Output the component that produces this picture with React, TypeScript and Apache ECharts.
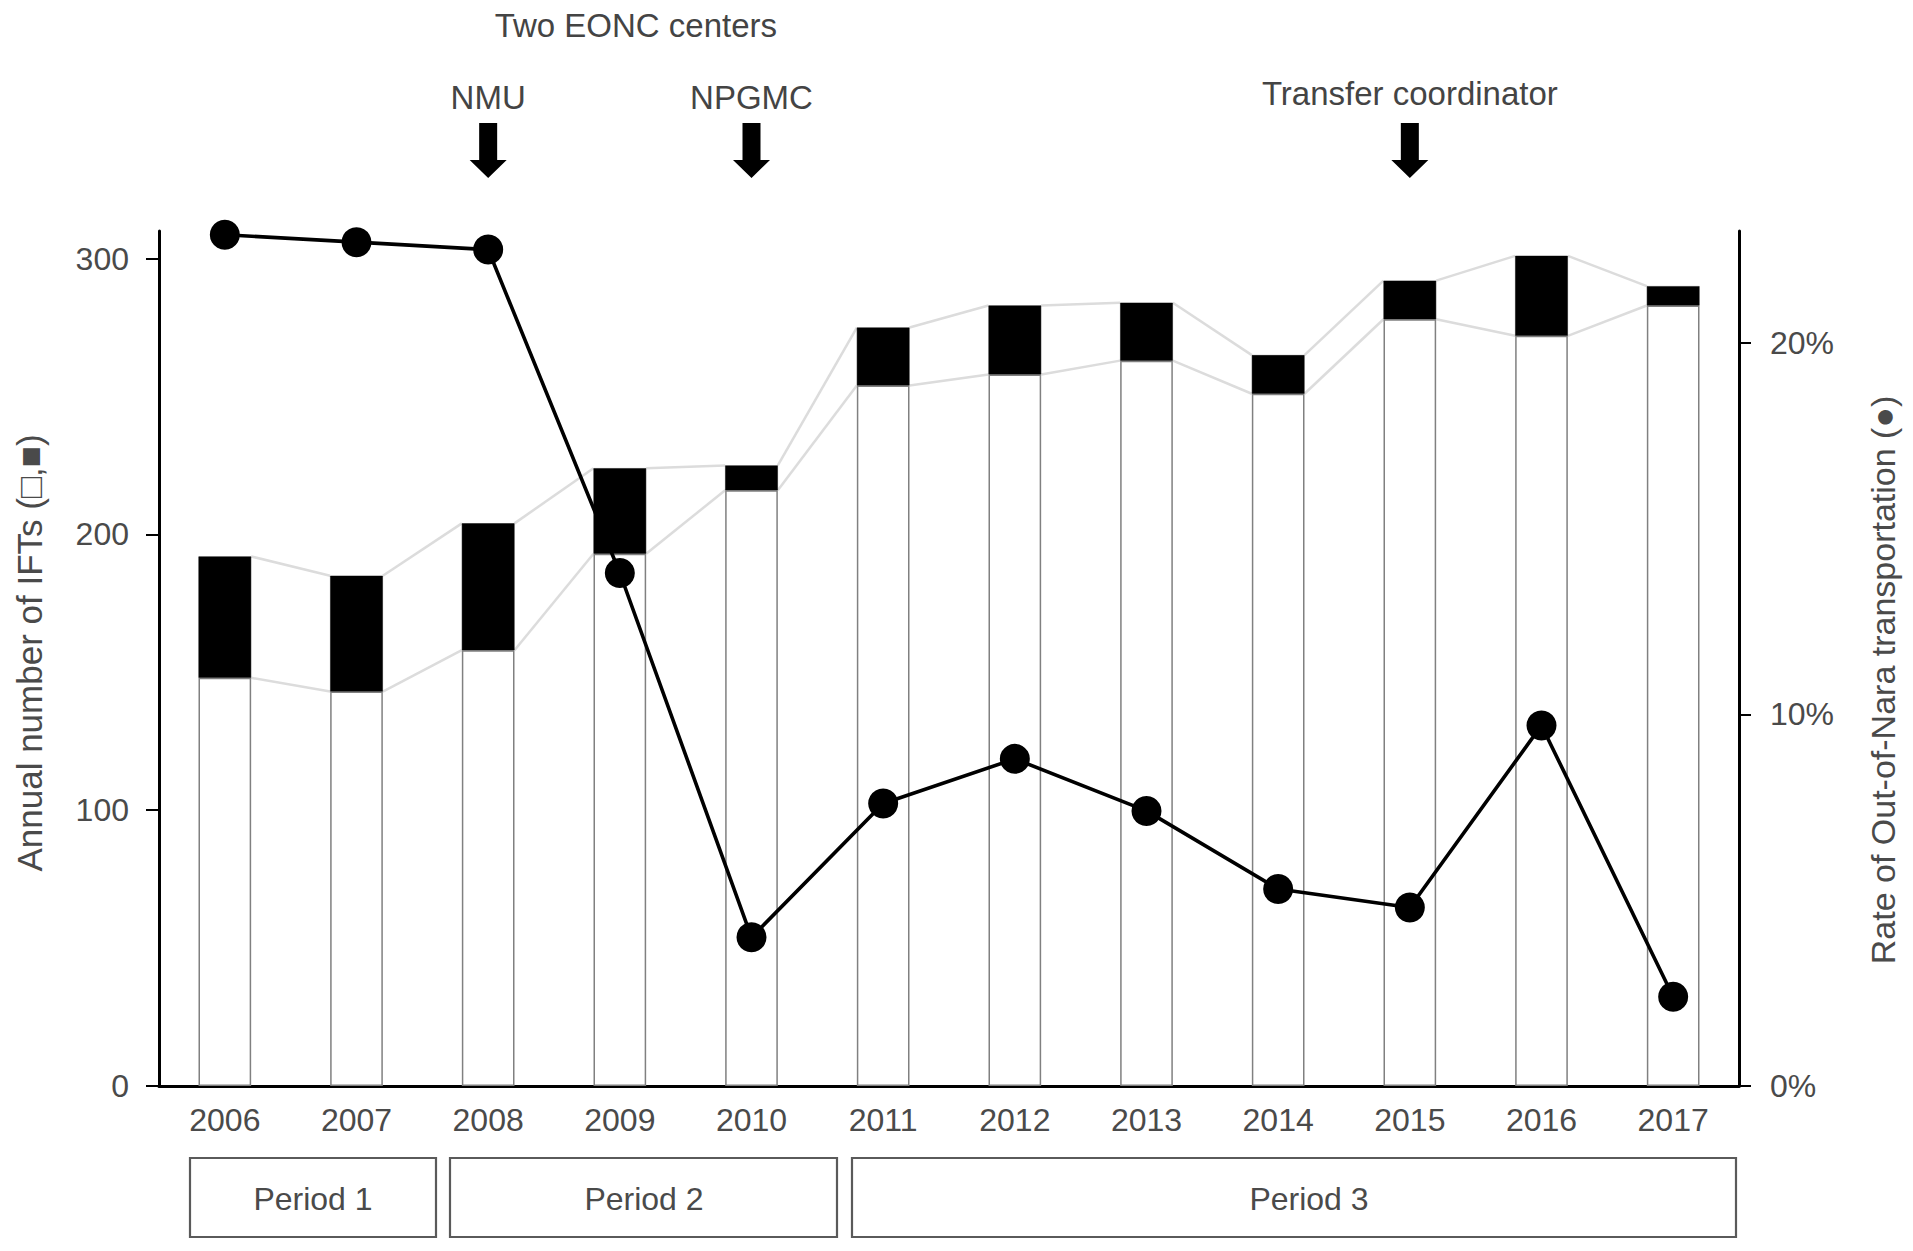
import React, { useEffect, useRef } from "react";
import * as echarts from "echarts";

const years = ["2006", "2007", "2008", "2009", "2010", "2011", "2012", "2013", "2014", "2015", "2016", "2017"];
// white part of bars (other IFTs)
const otherIFTs = [148, 143, 158, 193, 216, 254, 258, 263, 251, 278, 272, 283];
// black part of bars (out-of-Nara IFTs)
const outOfNaraIFTs = [44, 42, 46, 31, 9, 21, 25, 21, 14, 14, 29, 7];
// rate of out-of-Nara transportation (%)
const outOfNaraRate = [22.9, 22.7, 22.5, 13.8, 4.0, 7.6, 8.8, 7.4, 5.3, 4.8, 9.7, 2.4];

const leftTicks = [0, 100, 200, 300];
const rightTicks = [0, 10, 20];

const eventYears = ["2008", "2010", "2015"];
const eventLabels = ["NMU", "NPGMC", "Transfer coordinator"];
const periodLabels = ["Period 1", "Period 2", "Period 3"];

const FONT = '"Liberation Sans", Arial, Helvetica, sans-serif';
const TXT = "#4a4a4a";

export default function App() {
  const ref = useRef<HTMLDivElement>(null);

  useEffect(() => {
    if (!ref.current) return;
    const chart = echarts.init(ref.current, null, { renderer: "svg" });

    const totals = otherIFTs.map((v, i) => v + outOfNaraIFTs[i]);
    const connectorData = years.slice(0, -1).map((_, i) => [
      i,
      otherIFTs[i],
      totals[i],
      otherIFTs[i + 1],
      totals[i + 1],
    ]);

    const option: any = {
      animation: false,
      backgroundColor: "#fff",
      textStyle: { fontFamily: FONT },
      grid: { left: 159, right: 174, top: 231, bottom: 165, containLabel: false },
      xAxis: {
        type: "category",
        data: years,
        boundaryGap: true,
        axisLine: { lineStyle: { color: "#000", width: 3 } },
        axisTick: { show: false },
        axisLabel: { color: TXT, fontSize: 32, fontFamily: FONT, margin: 18 },
        splitLine: { show: false },
      },
      yAxis: [
        {
          type: "value",
          min: 0,
          max: 310,
          position: "left",
          axisLine: { show: true, lineStyle: { color: "#000", width: 3 } },
          axisTick: { show: true, length: 13, lineStyle: { color: "#000", width: 2 }, customValues: leftTicks },
          axisLabel: { color: TXT, fontSize: 32, fontFamily: FONT, margin: 30, customValues: leftTicks },
          splitLine: { show: false },
        },
        {
          type: "value",
          min: 0,
          max: 23,
          position: "right",
          axisLine: { show: true, lineStyle: { color: "#000", width: 3 } },
          axisTick: { show: true, length: 12, lineStyle: { color: "#000", width: 2 }, customValues: rightTicks },
          axisLabel: {
            color: TXT,
            fontSize: 32,
            fontFamily: FONT,
            margin: 31,
            customValues: rightTicks,
            formatter: "{value}%",
          },
          splitLine: { show: false },
        },
      ],
      series: [
        {
          type: "custom",
          name: "connectors",
          xAxisIndex: 0,
          yAxisIndex: 0,
          z: 1,
          silent: true,
          encode: { x: 0, y: 1 },
          data: connectorData,
          renderItem: (params: any, api: any) => {
            const i = api.value(0);
            const half = (api.size([1, 0])[0] * 0.4) / 2;
            const a1 = api.coord([i, api.value(1)]);
            const a2 = api.coord([i + 1, api.value(3)]);
            const b1 = api.coord([i, api.value(2)]);
            const b2 = api.coord([i + 1, api.value(4)]);
            const st = { stroke: "#dcdcdc", lineWidth: 2.5, fill: null };
            return {
              type: "group",
              children: [
                { type: "line", shape: { x1: a1[0] + half, y1: a1[1], x2: a2[0] - half, y2: a2[1] }, style: st },
                { type: "line", shape: { x1: b1[0] + half, y1: b1[1], x2: b2[0] - half, y2: b2[1] }, style: st },
              ],
            };
          },
        },
        {
          type: "bar",
          name: "Other IFTs",
          stack: "ift",
          barWidth: "40%",
          z: 2,
          data: otherIFTs,
          itemStyle: { color: "#fff", borderColor: "#808080", borderWidth: 1.5 },
        },
        {
          type: "bar",
          name: "Out-of-Nara IFTs",
          stack: "ift",
          barWidth: "40%",
          z: 2,
          data: outOfNaraIFTs,
          itemStyle: { color: "#000", borderColor: "#000", borderWidth: 0.5 },
        },
        {
          type: "line",
          name: "Rate",
          yAxisIndex: 1,
          z: 5,
          data: outOfNaraRate,
          symbol: "circle",
          symbolSize: 30,
          lineStyle: { color: "#000", width: 3.6 },
          itemStyle: { color: "#000" },
        },
      ],
    };

    chart.setOption(option);

    const textStyle = (text: string, size = 33, color = TXT) => ({
      text,
      fill: color,
      fontSize: size,
      fontFamily: FONT,
      align: "center",
      verticalAlign: "middle",
      textAlign: "center",
      textVerticalAlign: "middle",
    });

    const graphics: any[] = [];

    // event arrows and labels
    eventYears.forEach((yr, k) => {
      const cx = chart.convertToPixel({ xAxisIndex: 0 }, yr) as number;
      graphics.push({
        type: "polygon",
        shape: {
          points: [
            [cx - 9, 123],
            [cx + 9, 123],
            [cx + 9, 160],
            [cx + 18.5, 160],
            [cx, 178],
            [cx - 18.5, 160],
            [cx - 9, 160],
          ],
        },
        style: { fill: "#000" },
      });
      graphics.push({
        type: "text",
        x: cx,
        y: k === 2 ? 93 : 97,
        style: textStyle(eventLabels[k], 33, "#444"),
      });
    });

    const x2008 = chart.convertToPixel({ xAxisIndex: 0 }, "2008") as number;
    const x2010 = chart.convertToPixel({ xAxisIndex: 0 }, "2010") as number;
    graphics.push({
      type: "text",
      x: (x2008 + x2010) / 2 + 16,
      y: 25,
      style: textStyle("Two EONC centers", 33, "#444"),
    });

    // period boxes: [left, right, label centre]
    const boxes = [
      [190, 436, 313],
      [450, 837, 644],
      [852, 1736, 1309],
    ];
    boxes.forEach(([x0, x1, tx], k) => {
      graphics.push({
        type: "rect",
        shape: { x: x0, y: 1158, width: x1 - x0, height: 79 },
        style: { fill: "#fff", stroke: "#5a5a5a", lineWidth: 2.2 },
      });
      graphics.push({
        type: "text",
        x: tx,
        y: 1199,
        style: textStyle(periodLabels[k], 32),
      });
    });

    // axis titles
    graphics.push({
      type: "text",
      x: 29,
      y: 653,
      rotation: Math.PI / 2,
      style: textStyle("Annual number of IFTs (\u25A1,\u25A0)", 35),
    });
    graphics.push({
      type: "text",
      x: 1883,
      y: 680,
      rotation: Math.PI / 2,
      style: textStyle("Rate of Out-of-Nara transportation (\u25CF)", 34),
    });

    chart.setOption({ graphic: graphics });

    return () => chart.dispose();
  }, []);

  return (
    <div
      ref={ref}
      style={{ position: "absolute", left: 0, top: 0, width: 1913, height: 1251, background: "#fff" }}
    />
  );
}
